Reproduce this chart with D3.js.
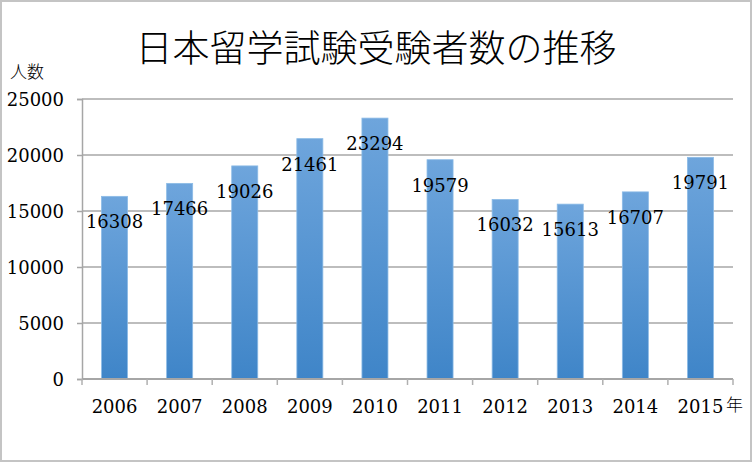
<!DOCTYPE html>
<html><head><meta charset="utf-8">
<script src="https://cdn.jsdelivr.net/npm/d3@7"></script>
<style>
html,body{margin:0;padding:0;background:#fff;}
svg{display:block;}
</style></head>
<body>
<svg id="chart" width="753" height="463"></svg>
<script>
const years = ["2006","2007","2008","2009","2010","2011","2012","2013","2014","2015"];
const examinees = [16308,17466,19026,21461,23294,19579,16032,15613,16707,19791];
const yTicks = [0,5000,10000,15000,20000,25000];
const titleText = "日本留学試験受験者数の推移";
const yAxisTitle = "人数";
const xAxisUnit = "年";

const svg = d3.select("#chart");
const W = 753, H = 463;
const m = {left:82, right:733, top:99, bottom:379};
const serif = "'DejaVu Serif', serif";
const cjk = "'Noto Sans CJK JP', sans-serif";
const fs = 18;

// outer border
svg.append("rect").attr("x",1).attr("y",1).attr("width",W-3).attr("height",H-3)
  .attr("fill","#fff").attr("stroke","#c4c4c4").attr("stroke-width",2);

const x = d3.scaleBand().domain(years).range([m.left,m.right]).paddingInner(0.6).paddingOuter(0.3);
const xb = d3.scaleBand().domain(years).range([m.left,m.right]);
const y = d3.scaleLinear().domain([0,25000]).range([m.bottom,m.top]);

// gradient
const defs = svg.append("defs");
const g = defs.append("linearGradient").attr("id","barGrad").attr("x1",0).attr("y1",0).attr("x2",0).attr("y2",1);
g.append("stop").attr("offset","0%").attr("stop-color","#6ea5dc");
g.append("stop").attr("offset","100%").attr("stop-color","#3f85c8");

// gridlines
svg.append("g").selectAll("line").data(yTicks.filter(d=>d>0)).join("line")
  .attr("x1",m.left).attr("x2",m.right).attr("y1",d=>y(d)).attr("y2",d=>y(d))
  .attr("stroke","#bdbdbd").attr("stroke-width",2);

// y axis
const yAxis = d3.axisLeft(y).tickValues(yTicks).tickSize(5).tickFormat(d3.format("d"));
const ya = svg.append("g").attr("transform",`translate(${m.left},0)`).call(yAxis);
ya.select(".domain").attr("stroke","#a6a6a6").attr("stroke-width",1.5);
ya.selectAll(".tick line").attr("stroke","#a6a6a6").attr("stroke-width",1.5);
ya.selectAll(".tick text").attr("font-family",serif).attr("font-size",fs).attr("fill","#000").attr("x",-18).attr("dy","0.35em");

// bars
svg.append("g").selectAll("rect").data(years).join("rect")
  .attr("x",d=>x(d)).attr("width",x.bandwidth())
  .attr("y",(d,i)=>y(examinees[i])).attr("height",(d,i)=>y(0)-y(examinees[i]))
  .attr("fill","url(#barGrad)").attr("stroke","#8cbbe6").attr("stroke-width",0.8);

// x axis
const xAxis = d3.axisBottom(xb).tickSize(0).tickFormat(d=>d);
const xa = svg.append("g").attr("transform",`translate(0,${m.bottom})`).call(xAxis);
xa.select(".domain").remove();
xa.append("line").attr("x1",m.left).attr("x2",m.right).attr("stroke","#a6a6a6").attr("stroke-width",2);
xa.selectAll(".tick text").attr("font-family",serif).attr("font-size",fs).attr("fill","#000").attr("y",21).attr("dy","0.71em");
// boundary ticks
const bounds = years.map(d=>xb(d)).concat([m.right]);
xa.append("g").selectAll("line").data(bounds).join("line")
  .attr("x1",d=>d).attr("x2",d=>d).attr("y1",0).attr("y2",6)
  .attr("stroke","#b0b0b0").attr("stroke-width",1.5);

// data labels
svg.append("g").selectAll("text").data(years).join("text")
  .attr("x",d=>x(d)+x.bandwidth()/2)
  .attr("y",(d,i)=>y(examinees[i])+32)
  .attr("text-anchor","middle").attr("font-family",serif).attr("font-size",fs).attr("fill","#000")
  .text((d,i)=>examinees[i]);

// title
svg.append("text").attr("x",376).attr("y",62).attr("text-anchor","middle")
  .attr("font-family",cjk).attr("font-weight",300).attr("font-size",37).attr("fill","#000").text(titleText);

// axis titles
svg.append("text").attr("x",10).attr("y",78).attr("font-family",cjk).attr("font-weight",300).attr("font-size",17).attr("fill","#000").text(yAxisTitle);
svg.append("text").attr("x",726).attr("y",411).attr("font-family",cjk).attr("font-weight",300).attr("font-size",17).attr("fill","#000").text(xAxisUnit);
</script>
</body></html>
